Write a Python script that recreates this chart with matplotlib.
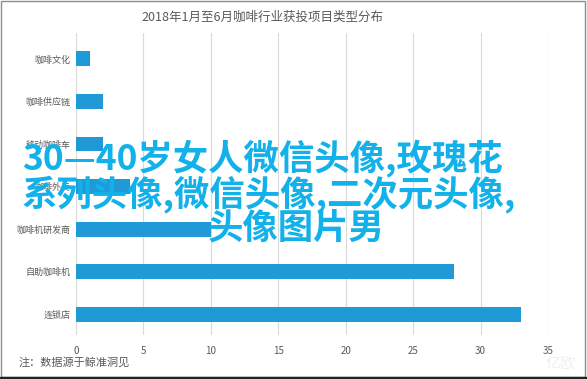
import matplotlib
matplotlib.use("Agg")
import matplotlib.pyplot as plt
from matplotlib.patches import Rectangle

plt.rcParams['font.family'] = ['Noto Sans CJK SC', 'DejaVu Sans']

# data (top to bottom)
categories = ['咖啡文化', '咖啡供应链', '移动咖啡车', '咖啡外卖', '咖啡机研发商', '自助咖啡机', '连锁店']
counts = [1, 2, 2, 4, 10, 28, 33]
x_ticks = [0, 5, 10, 15, 20, 25, 30, 35]

title = '2018年1月至6月咖啡行业获投项目类型分布'
note = '注：数据源于鲸准洞见'
overlay_lines = ['30—40岁女人微信头像,玫瑰花', '系列头像,微信头像,二次元头像,', '头像图片男']

bar_color = '#1f9ad6'
text_gray = '#595959'

fig = plt.figure(figsize=(5.87, 3.79), dpi=100)
ax = fig.add_axes([0.1295, 0.116, 0.804, 0.797])

pos = list(range(len(categories)))
ax.barh(pos, counts, height=0.35, color=bar_color, zorder=3)

ax.set_xlim(0, 35)
ax.set_ylim(6.49, -0.61)
ax.set_xticks(x_ticks)
ax.set_yticks(pos)
ax.set_yticklabels(categories)
ax.tick_params(axis='x', length=0, pad=8, labelsize=7, labelcolor=text_gray)
ax.tick_params(axis='y', length=0, pad=4, labelsize=6.5, labelcolor=text_gray)
ax.grid(axis='x', color='#d9d9d9', linewidth=0.8, zorder=0)
for s in ax.spines.values():
    s.set_visible(False)

fig.text(0.447, 0.955, title, ha='center', va='center', fontsize=9, color=text_gray)
fig.text(0.031, 0.045, note, ha='left', va='center', fontsize=8, color=text_gray)

# faint watermark
fig.text(0.955, 0.04, '亿欧', ha='center', va='center', fontsize=11, color='#f0f0f0')

# overlaid caption text
cyan = '#12b1ea'
fig.text(0.037, 1 - 158 / 379, overlay_lines[0], ha='left', va='center',
         fontsize=25.5, color=cyan, fontweight='bold')
fig.text(0.037, 1 - 194 / 379, overlay_lines[1], ha='left', va='center',
         fontsize=25.5, color=cyan, fontweight='bold')
fig.text(0.354, 1 - 228 / 379, overlay_lines[2], ha='left', va='center',
         fontsize=25.5, color=cyan, fontweight='bold')

# picture frame
fig.patches.append(Rectangle((0.002, 0.004), 0.994, 0.994, transform=fig.transFigure,
                             fill=False, edgecolor='#8c8c8c', linewidth=1))
fig.patches.append(Rectangle((0.0, 0.0), 1.0, 0.006, transform=fig.transFigure,
                             color='#222222'))

fig.savefig('out.png', dpi=100)
